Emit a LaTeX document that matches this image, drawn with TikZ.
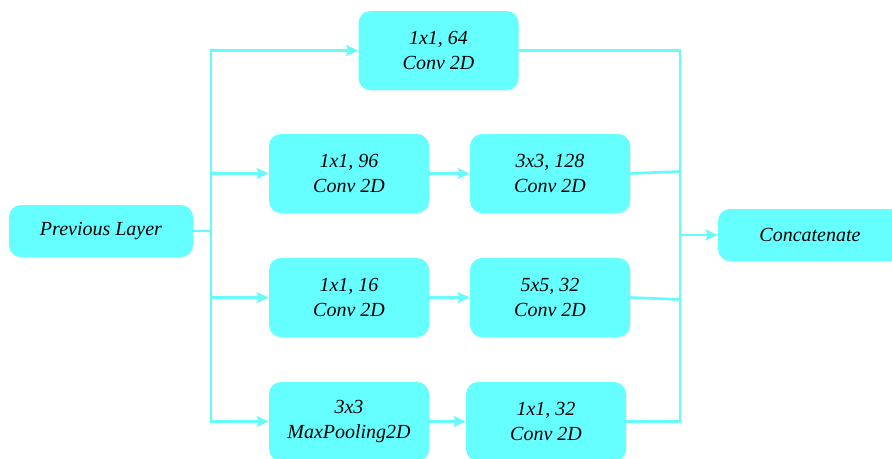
\documentclass[tikz,border=0pt]{standalone}
\usepackage{fontspec}
\setmainfont{Liberation Serif}
\usetikzlibrary{arrows.meta,shadows}
\definecolor{boxcyan}{HTML}{66FFFF}
\definecolor{linecyan}{HTML}{66FAFA}
\begin{document}
\begin{tikzpicture}[x=0.75pt,y=-0.75pt,
  layer/.style={rectangle, rounded corners=9pt, fill=boxcyan, draw=none,
    align=center, inner sep=0pt,
    font=\fontsize{15pt}{18.75pt}\selectfont\itshape,
    drop shadow={opacity=0.12, shadow xshift=0.8pt, shadow yshift=-1.2pt}},
  stage/.style={layer, minimum width=120pt, minimum height=59.25pt},
  wide/.style={layer, minimum width=138pt, minimum height=39pt},
  link/.style={draw=linecyan, line width=2pt},
  flow/.style={link, -{Stealth[length=9pt,width=8pt,inset=1.5pt]}}]
\useasboundingbox (0,0) rectangle (892,458);
\clip (0,0) rectangle (892,458);

% input and output blocks
\node[wide] (prev) at (101,231) {Previous Layer};
\node[wide] (concat) at (810,235) {Concatenate};

% the four parallel branches
\node[stage] (top) at (438.5,50.5) {1x1, 64\\Conv 2D};
\node[stage] (ra) at (349,173.5) {1x1, 96\\Conv 2D};
\node[stage] (rb) at (550,173.5) {3x3, 128\\Conv 2D};
\node[stage] (sa) at (349,297.5) {1x1, 16\\Conv 2D};
\node[stage] (sb) at (550,297.5) {5x5, 32\\Conv 2D};
\node[stage] (pa) at (349,421.5) {3x3\\MaxPooling2D};
\node[stage] (pb) at (546,421.5) {1x1, 32\\Conv 2D};

% split and join points
\coordinate (split) at (211,231);
\coordinate (join) at (680,235);

% fan-out from the previous layer
\draw[link] (prev.east) -- (split);
\draw[flow] (split) |- (top.west);
\draw[flow] (split) |- (ra.west);
\draw[flow] (split) |- (sa.west);
\draw[flow] (split) |- (pa.west);

% second stage of each branch
\draw[flow] (ra) -- (rb);
\draw[flow] (sa) -- (sb);
\draw[flow] (pa) -- (pb);

% fan-in to the concatenation
\draw[link] (top.east) -| (join);
\draw[link] (rb.east) -- ([yshift=1.5pt]join |- rb.east);
\draw[link] (sb.east) -- ([yshift=-1.5pt]join |- sb.east);
\draw[link] (pb.east) -| (join);
\draw[flow] (join) -- (concat.west);
\end{tikzpicture}
\end{document}
